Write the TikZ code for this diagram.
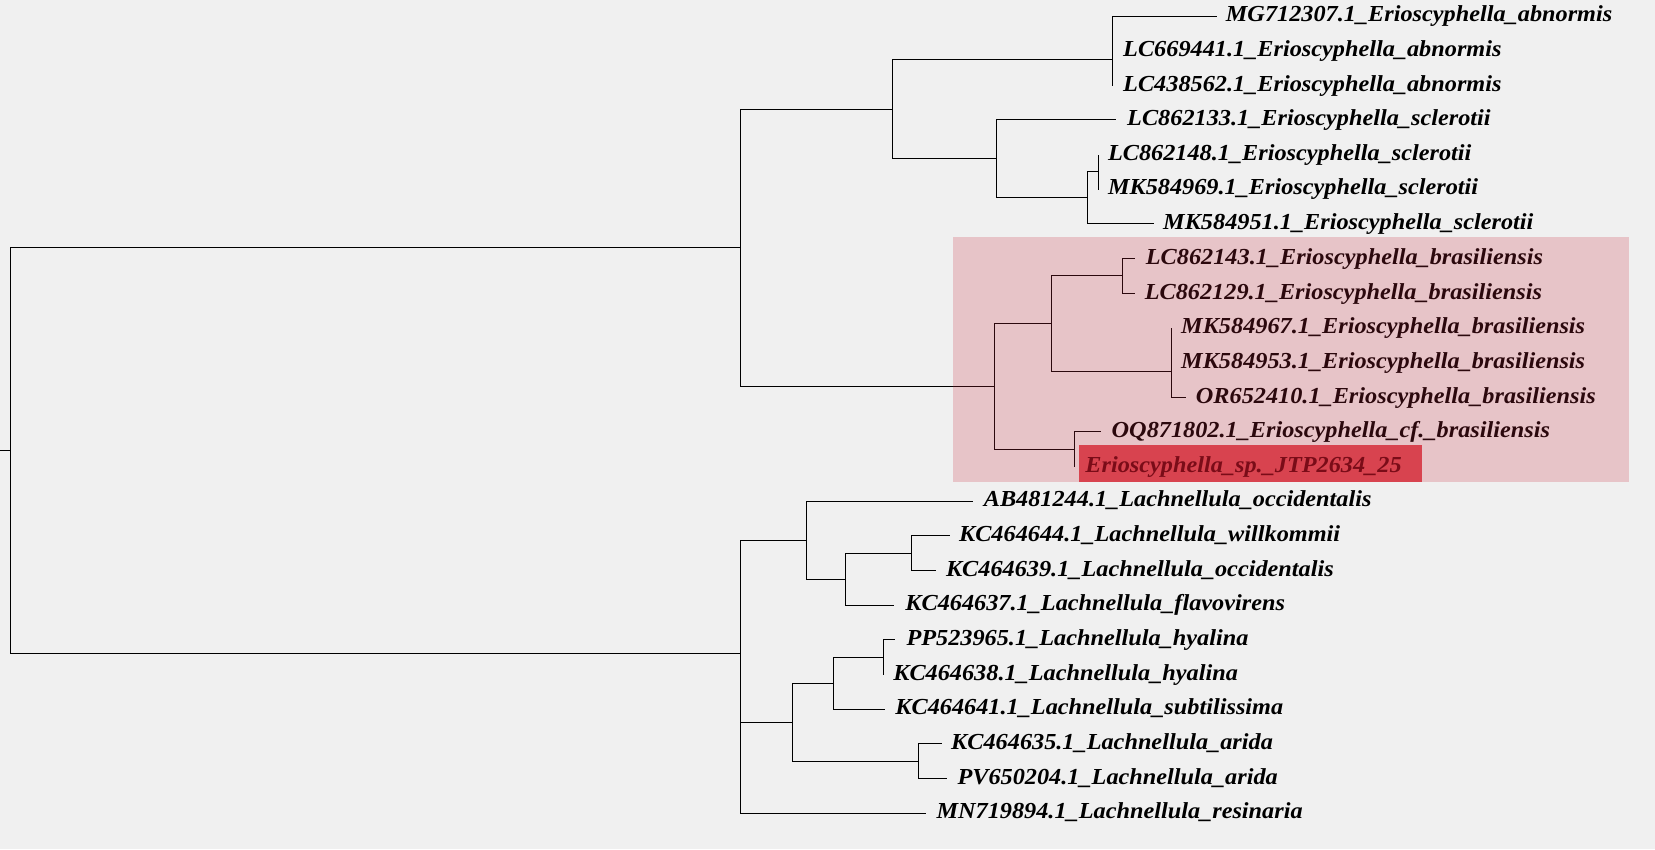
\documentclass[tikz,border=0pt]{standalone}
\usepackage{fontspec}
\setmainfont{Liberation Serif}
\usepackage{graphicx}
\definecolor{bgcol}{HTML}{F0F0F0}
\definecolor{hlcol}{RGB}{200,40,60}
\definecolor{redboxcol}{HTML}{D8434F}
\definecolor{redtextcol}{HTML}{7A0C18}
\newcommand{\lbl}[1]{\scalebox{1.06}[1]{#1}}
\begin{document}
\begin{tikzpicture}[x=1bp,y=-1bp,
  branch/.style={line width=1.15bp, black},
  taxon/.style={anchor=base west, inner sep=0pt, font=\fontsize{22.9bp}{24bp}\selectfont\bfseries\itshape},
  hlbox/.style={fill=hlcol, fill opacity=0.22},
  redbox/.style={fill=redboxcol}
]
\fill[bgcol] (0,0) rectangle (1655,849);
\useasboundingbox (0,0) rectangle (1655,849);

% internal nodes
\coordinate (stub) at (0,450.5);
\coordinate (root) at (10.5,450.5);
\coordinate (nEri) at (740.5,247.5);
\coordinate (nAB) at (892.5,109.5);
\coordinate (nA) at (1112.5,59.5);
\coordinate (nB) at (996.5,158.5);
\coordinate (n567) at (1087.5,197.5);
\coordinate (n56) at (1098.5,171.5);
\coordinate (nBr) at (994.5,386.5);
\coordinate (nBr1) at (1051.5,323.5);
\coordinate (n89) at (1122.5,275.5);
\coordinate (n1012) at (1171.5,371.5);
\coordinate (n1314) at (1074.5,449.5);
\coordinate (nLac) at (740.5,653.5);
\coordinate (n1518) at (806.5,540.5);
\coordinate (n1618) at (845.5,579.5);
\coordinate (n1617) at (911.5,553.5);
\coordinate (n1923) at (792.5,722.5);
\coordinate (n1921) at (833.5,683.5);
\coordinate (n1920) at (883.5,657.5);
\coordinate (n2223) at (918.5,761.5);

% leaf tips
\coordinate (t1) at (1217,16.5);
\coordinate (t2) at (1112.5,50.5);
\coordinate (t3) at (1112.5,85.5);
\coordinate (t4) at (1116,119.5);
\coordinate (t5) at (1098.5,154.5);
\coordinate (t6) at (1098.5,189.5);
\coordinate (t7) at (1154,223.5);
\coordinate (t8) at (1135,258.5);
\coordinate (t9) at (1135,293.5);
\coordinate (t10) at (1171.5,327.5);
\coordinate (t11) at (1171.5,362.5);
\coordinate (t12) at (1186,397.5);
\coordinate (t13) at (1101,431.5);
\coordinate (t14) at (1074.5,466.5);
\coordinate (t15) at (973,501.5);
\coordinate (t16) at (950,535.5);
\coordinate (t17) at (936,570.5);
\coordinate (t18) at (894,605.5);
\coordinate (t19) at (895,639.5);
\coordinate (t20) at (883.5,675);
\coordinate (t21) at (885,709.5);
\coordinate (t22) at (941.5,743.5);
\coordinate (t23) at (947,778.5);
\coordinate (t24) at (926,813.5);

% branches
\draw[branch] (stub) -- (root);
\draw[branch] (root) |- (nEri);
\draw[branch] (root) |- (nLac);
\draw[branch] (nEri) |- (nAB);
\draw[branch] (nEri) |- (nBr);
\draw[branch] (nAB) |- (nA);
\draw[branch] (nAB) |- (nB);
\draw[branch] (nA) |- (t1);
\draw[branch] (nA) |- (t2);
\draw[branch] (nA) |- (t3);
\draw[branch] (nB) |- (t4);
\draw[branch] (nB) |- (n567);
\draw[branch] (n567) |- (n56);
\draw[branch] (n567) |- (t7);
\draw[branch] (n56) |- (t5);
\draw[branch] (n56) |- (t6);
\draw[branch] (nBr) |- (nBr1);
\draw[branch] (nBr) |- (n1314);
\draw[branch] (nBr1) |- (n89);
\draw[branch] (nBr1) |- (n1012);
\draw[branch] (n89) |- (t8);
\draw[branch] (n89) |- (t9);
\draw[branch] (n1012) |- (t10);
\draw[branch] (n1012) |- (t11);
\draw[branch] (n1012) |- (t12);
\draw[branch] (n1314) |- (t13);
\draw[branch] (n1314) |- (t14);
\draw[branch] (nLac) |- (n1518);
\draw[branch] (nLac) |- (n1923);
\draw[branch] (nLac) |- (t24);
\draw[branch] (n1518) |- (t15);
\draw[branch] (n1518) |- (n1618);
\draw[branch] (n1618) |- (n1617);
\draw[branch] (n1618) |- (t18);
\draw[branch] (n1617) |- (t16);
\draw[branch] (n1617) |- (t17);
\draw[branch] (n1923) |- (n1921);
\draw[branch] (n1923) |- (n2223);
\draw[branch] (n1921) |- (n1920);
\draw[branch] (n1921) |- (t21);
\draw[branch] (n1920) |- (t19);
\draw[branch] (n1920) |- (t20);
\draw[branch] (n2223) |- (t22);
\draw[branch] (n2223) |- (t23);

% labels
\node[taxon] (l1) at (1225.7,21.7) {\lbl{MG712307.1\_Erioscyphella\_abnormis}};
\node[taxon] (l2) at (1123,56.4) {\lbl{LC669441.1\_Erioscyphella\_abnormis}};
\node[taxon] (l3) at (1123,91.0) {\lbl{LC438562.1\_Erioscyphella\_abnormis}};
\node[taxon] (l4) at (1127,125.2) {\lbl{LC862133.1\_Erioscyphella\_sclerotii}};
\node[taxon] (l5) at (1107.8,160.0) {\lbl{LC862148.1\_Erioscyphella\_sclerotii}};
\node[taxon] (l6) at (1107.8,194.7) {\lbl{MK584969.1\_Erioscyphella\_sclerotii}};
\node[taxon] (l7) at (1163,229.0) {\lbl{MK584951.1\_Erioscyphella\_sclerotii}};
\node[taxon] (l8) at (1145.7,264.2) {\lbl{LC862143.1\_Erioscyphella\_brasiliensis}};
\node[taxon] (l9) at (1144.6,299.0) {\lbl{LC862129.1\_Erioscyphella\_brasiliensis}};
\node[taxon] (l10) at (1181,333.5) {\lbl{MK584967.1\_Erioscyphella\_brasiliensis}};
\node[taxon] (l11) at (1181,368.2) {\lbl{MK584953.1\_Erioscyphella\_brasiliensis}};
\node[taxon] (l12) at (1195.7,403.0) {\lbl{OR652410.1\_Erioscyphella\_brasiliensis}};
\node[taxon] (l13) at (1111.5,437.6) {\lbl{OQ871802.1\_Erioscyphella\_cf.\_brasiliensis}};
\node[taxon] (l15) at (983.6,506.9) {\lbl{AB481244.1\_Lachnellula\_occidentalis}};
\node[taxon] (l16) at (958.9,541.5) {\lbl{KC464644.1\_Lachnellula\_willkommii}};
\node[taxon] (l17) at (945.8,576.1) {\lbl{KC464639.1\_Lachnellula\_occidentalis}};
\node[taxon] (l18) at (905.2,610.8) {\lbl{KC464637.1\_Lachnellula\_flavovirens}};
\node[taxon] (l19) at (906.3,645.4) {\lbl{PP523965.1\_Lachnellula\_hyalina}};
\node[taxon] (l20) at (893.1,680.1) {\lbl{KC464638.1\_Lachnellula\_hyalina}};
\node[taxon] (l21) at (895.2,714.8) {\lbl{KC464641.1\_Lachnellula\_subtilissima}};
\node[taxon] (l22) at (951,749.4) {\lbl{KC464635.1\_Lachnellula\_arida}};
\node[taxon] (l23) at (957.3,784.1) {\lbl{PV650204.1\_Lachnellula\_arida}};
\node[taxon] (l24) at (936.3,818.8) {\lbl{MN719894.1\_Lachnellula\_resinaria}};

% highlights
\path[hlbox] (953,237) rectangle (1629,482);
\path[redbox] (1079,445) rectangle (1422,482);
\node[taxon, text=redtextcol] (l14) at (1085.2,472.3) {\lbl{Erioscyphella\_sp.\_JTP2634\_25}};
\end{tikzpicture}
\end{document}
